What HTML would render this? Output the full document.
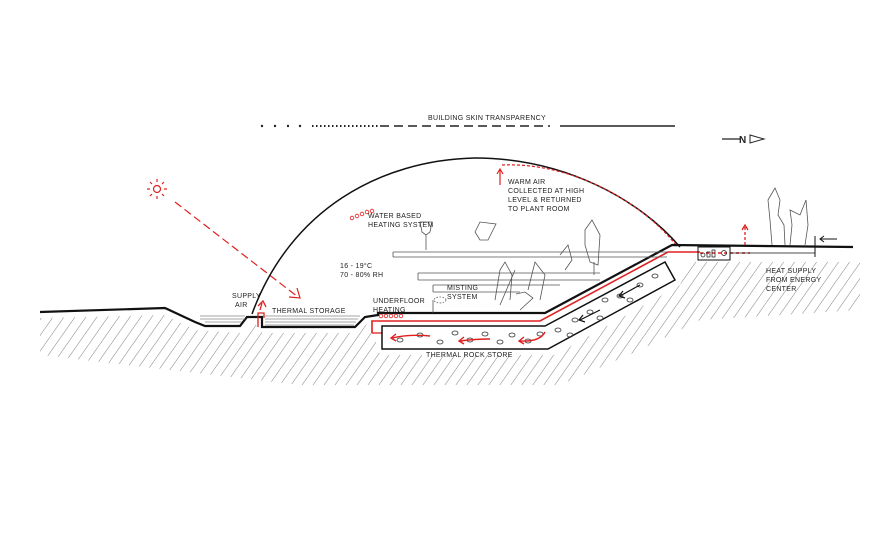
<!DOCTYPE html>
<html><head><meta charset="utf-8"><style>
html,body{margin:0;padding:0;background:#fff;}
svg{display:block}
text{font-family:"Liberation Sans",sans-serif;font-size:7px;fill:#222;letter-spacing:0.3px}
</style></head><body>
<svg width="896" height="550" viewBox="0 0 896 550" xmlns="http://www.w3.org/2000/svg">
<defs>
<pattern id="h" width="9" height="9" patternUnits="userSpaceOnUse" patternTransform="rotate(35)">
<line x1="0" y1="0" x2="0" y2="9" stroke="#444" stroke-width="0.8"/>
</pattern>
</defs>
<!-- hatch under ground -->
<polygon points="40,318 165,315 195,330 240,333 250,325 262,325 262,333 355,333 370,322 380,355 555,355 680,285 690,262 860,262 860,310 700,320 640,350 560,385 380,385 300,385 40,355" fill="url(#h)" opacity="0.85"/>
<polygon points="380,320 555,320 680,255 690,262 680,285 555,355 380,355" fill="#fff"/>
<!-- top transparency line -->
<g fill="#222">
<circle cx="262" cy="126" r="1.2"/><circle cx="275" cy="126" r="1.2"/><circle cx="288" cy="126" r="1.2"/><circle cx="300" cy="126" r="1.2"/>
</g>
<line x1="312" y1="126" x2="378" y2="126" stroke="#222" stroke-width="2" stroke-dasharray="1.5 2.5"/>
<line x1="380" y1="126" x2="550" y2="126" stroke="#222" stroke-width="1.6" stroke-dasharray="9 5"/>
<line x1="560" y1="126" x2="675" y2="126" stroke="#222" stroke-width="1.5"/>
<text x="428" y="120">BUILDING SKIN TRANSPARENCY</text>
<!-- north arrow -->
<line x1="722" y1="139" x2="740" y2="139" stroke="#222" stroke-width="1.3"/>
<text x="739" y="143" style="font-size:10px;font-weight:bold">N</text>
<polygon points="750,135 764,139 750,143" fill="none" stroke="#222" stroke-width="1"/>
<!-- sun -->
<g stroke="#e02020" stroke-width="1.2" fill="none">
<circle cx="157" cy="189" r="3.5"/>
<line x1="157" y1="179" x2="157" y2="182"/><line x1="157" y1="196" x2="157" y2="199"/>
<line x1="147" y1="189" x2="150" y2="189"/><line x1="164" y1="189" x2="167" y2="189"/>
<line x1="150" y1="182" x2="152" y2="184"/><line x1="162" y1="194" x2="164" y2="196"/>
<line x1="164" y1="182" x2="162" y2="184"/><line x1="150" y1="196" x2="152" y2="194"/>
<line x1="175" y1="202" x2="298" y2="297" stroke-dasharray="8 4"/>
<polyline points="289,297 300,298 297,288"/>
</g>
<!-- dome -->
<path d="M252,314 C290,210 380,160 475,158 C565,158 640,200 680,247" fill="none" stroke="#111" stroke-width="1.5"/>
<path d="M502,165 C570,162 640,200 676,245" fill="none" stroke="#e02020" stroke-width="1.2" stroke-dasharray="3 2"/>
<line x1="500" y1="185" x2="500" y2="170" stroke="#e02020" stroke-width="1.2"/>
<polyline points="497,174 500,169 503,174" fill="none" stroke="#e02020" stroke-width="1.2"/>
<g fill="none" stroke="#e02020" stroke-width="0.8">
<circle cx="352" cy="218" r="1.8"/><circle cx="357" cy="216" r="1.8"/><circle cx="362" cy="214" r="1.8"/><circle cx="367" cy="212" r="1.8"/><circle cx="372" cy="211" r="1.8"/>
</g>
<!-- ground -->
<polyline points="40,312 165,308 195,322 205,326 240,326 247,317 262,317 262,327 355,327 365,317 378,315 378,313 545,313 672,245 853,247" fill="none" stroke="#111" stroke-width="2.2"/>
<g stroke="#888" stroke-width="0.8">
<line x1="200" y1="316" x2="245" y2="316"/><line x1="200" y1="319" x2="245" y2="319"/><line x1="205" y1="322" x2="242" y2="322"/>
<line x1="265" y1="316" x2="360" y2="316"/><line x1="265" y1="319" x2="358" y2="319"/><line x1="265" y1="322" x2="356" y2="322"/><line x1="265" y1="325" x2="354" y2="325"/>
</g>
<!-- supply air red -->
<polyline points="258,327 258,313 264,313 264,318" fill="none" stroke="#e02020" stroke-width="1.3"/>
<polyline points="260,310 262,303" stroke="#e02020" stroke-width="1.3" fill="none"/>
<polyline points="258,306 263,301 266,307" stroke="#e02020" stroke-width="1.3" fill="none"/>
<!-- red heating line -->
<polyline points="372,333 372,321 540,321 668,252 700,252" fill="none" stroke="#e02020" stroke-width="1.6"/>
<line x1="700" y1="253" x2="750" y2="253" stroke="#e02020" stroke-width="1.4" stroke-dasharray="3 3"/>
<line x1="372" y1="333" x2="382" y2="333" stroke="#e02020" stroke-width="1.3"/>
<g fill="none" stroke="#e02020" stroke-width="0.8">
<circle cx="381" cy="316" r="1.8"/><circle cx="386" cy="316" r="1.8"/><circle cx="391" cy="316" r="1.8"/><circle cx="396" cy="316" r="1.8"/><circle cx="401" cy="316" r="1.8"/>
</g>
<!-- rock store -->
<polygon points="382,326 545,326 665,262 675,280 548,349 382,349" fill="none" stroke="#111" stroke-width="1.5"/>
<g fill="none" stroke="#333" stroke-width="0.8">
<ellipse cx="400" cy="340" rx="3" ry="2"/><ellipse cx="420" cy="335" rx="3" ry="2"/><ellipse cx="440" cy="342" rx="3" ry="2"/><ellipse cx="455" cy="333" rx="3" ry="2"/><ellipse cx="470" cy="340" rx="3" ry="2"/><ellipse cx="485" cy="334" rx="3" ry="2"/><ellipse cx="500" cy="342" rx="3" ry="2"/><ellipse cx="512" cy="335" rx="3" ry="2"/><ellipse cx="528" cy="341" rx="3" ry="2"/><ellipse cx="540" cy="334" rx="3" ry="2"/><ellipse cx="558" cy="330" rx="3" ry="2"/><ellipse cx="575" cy="320" rx="3" ry="2"/><ellipse cx="590" cy="312" rx="3" ry="2"/><ellipse cx="605" cy="300" rx="3" ry="2"/><ellipse cx="620" cy="296" rx="3" ry="2"/><ellipse cx="640" cy="285" rx="3" ry="2"/><ellipse cx="655" cy="276" rx="3" ry="2"/><ellipse cx="570" cy="335" rx="3" ry="2"/><ellipse cx="600" cy="318" rx="3" ry="2"/><ellipse cx="630" cy="300" rx="3" ry="2"/>
</g>
<g fill="none" stroke="#e02020" stroke-width="1.4">
<path d="M430,336 Q410,334 392,338"/><polyline points="396,334 391,338 396,341"/>
<path d="M490,339 Q475,339 460,341"/><polyline points="464,337 459,341 464,344"/>
<path d="M545,332 Q540,342 520,341"/><polyline points="524,337 519,341 524,344"/>
</g>
<g fill="none" stroke="#111" stroke-width="1.2">
<path d="M600,310 L580,320"/><polyline points="583,315 579,320 585,322"/>
<path d="M640,285 L620,296"/><polyline points="623,291 619,296 625,298"/>
</g>
<!-- shelves -->
<g stroke="#555" stroke-width="0.8" fill="none">
<line x1="393" y1="252" x2="667" y2="252"/><line x1="393" y1="257" x2="667" y2="257"/><line x1="393" y1="252" x2="393" y2="257"/>
<line x1="418" y1="273" x2="600" y2="273"/><line x1="418" y1="280" x2="600" y2="280"/><line x1="418" y1="273" x2="418" y2="280"/>
<line x1="433" y1="285" x2="560" y2="285"/><line x1="433" y1="292" x2="520" y2="292"/><line x1="433" y1="285" x2="433" y2="292"/>
<line x1="433" y1="300" x2="433" y2="313"/>
<ellipse cx="440" cy="300" rx="6" ry="3" stroke-dasharray="1.5 1.5"/>
<path d="M422,232 L420,222 L432,222 L430,232 L426,235 Z M426,235 L426,250"/>
<path d="M475,232 L480,222 L496,224 L488,240 L480,240 Z"/>
<path d="M495,300 L500,270 L505,262 L512,275 L510,300 M500,305 L515,270"/>
<path d="M528,290 L535,262 L545,275 L540,300"/>
<path d="M585,230 L592,220 L600,235 L598,265 L590,262 L585,245 Z M594,262 L594,275"/>
<path d="M560,255 L568,245 L572,260 L565,270"/>
<path d="M516,294 L525,292 L533,298 L520,310"/>
</g>
<!-- plant room -->
<rect x="698" y="247" width="32" height="13" fill="none" stroke="#111" stroke-width="1"/>
<circle cx="703" cy="255" r="2" fill="none" stroke="#111" stroke-width="0.7"/>
<rect x="707" y="252" width="3" height="5" fill="none" stroke="#111" stroke-width="0.7"/>
<rect x="712" y="250" width="3" height="7" fill="none" stroke="#111" stroke-width="0.7"/>
<circle cx="724" cy="253" r="2.5" fill="none" stroke="#111" stroke-width="0.7"/>
<line x1="730" y1="253" x2="815" y2="253" stroke="#111" stroke-width="0.8"/>
<line x1="815" y1="236" x2="815" y2="257" stroke="#111" stroke-width="1"/>
<line x1="820" y1="239" x2="837" y2="239" stroke="#111" stroke-width="1"/>
<polyline points="824,236 820,239 824,242" fill="none" stroke="#111" stroke-width="1"/>
<line x1="745" y1="245" x2="745" y2="226" stroke="#e02020" stroke-width="1.3" stroke-dasharray="3 2"/>
<polyline points="742,230 745,225 748,230" fill="none" stroke="#e02020" stroke-width="1.3"/>
<g stroke="#555" stroke-width="0.8" fill="none">
<path d="M772,245 L770,220 L768,200 L775,188 L780,200 L778,215 L784,225 L785,245"/>
<path d="M790,245 L792,225 L790,210 L800,215 L806,200 L808,225 L805,245"/>
</g>
<!-- labels -->
<text x="368" y="218">WATER BASED</text>
<text x="368" y="227">HEATING SYSTEM</text>
<text x="508" y="184">WARM AIR</text>
<text x="508" y="193">COLLECTED AT HIGH</text>
<text x="508" y="202">LEVEL &amp; RETURNED</text>
<text x="508" y="211">TO PLANT ROOM</text>
<text x="340" y="268">16 - 19°C</text>
<text x="340" y="277">70 - 80% RH</text>
<text x="447" y="290">MISTING</text>
<text x="447" y="299">SYSTEM</text>
<text x="373" y="303">UNDERFLOOR</text>
<text x="373" y="312">HEATING</text>
<text x="232" y="298">SUPPLY</text>
<text x="235" y="307">AIR</text>
<text x="272" y="313">THERMAL STORAGE</text>
<text x="426" y="357">THERMAL ROCK STORE</text>
<text x="766" y="273">HEAT SUPPLY</text>
<text x="766" y="282">FROM ENERGY</text>
<text x="766" y="291">CENTER</text>
</svg>
</body></html>
